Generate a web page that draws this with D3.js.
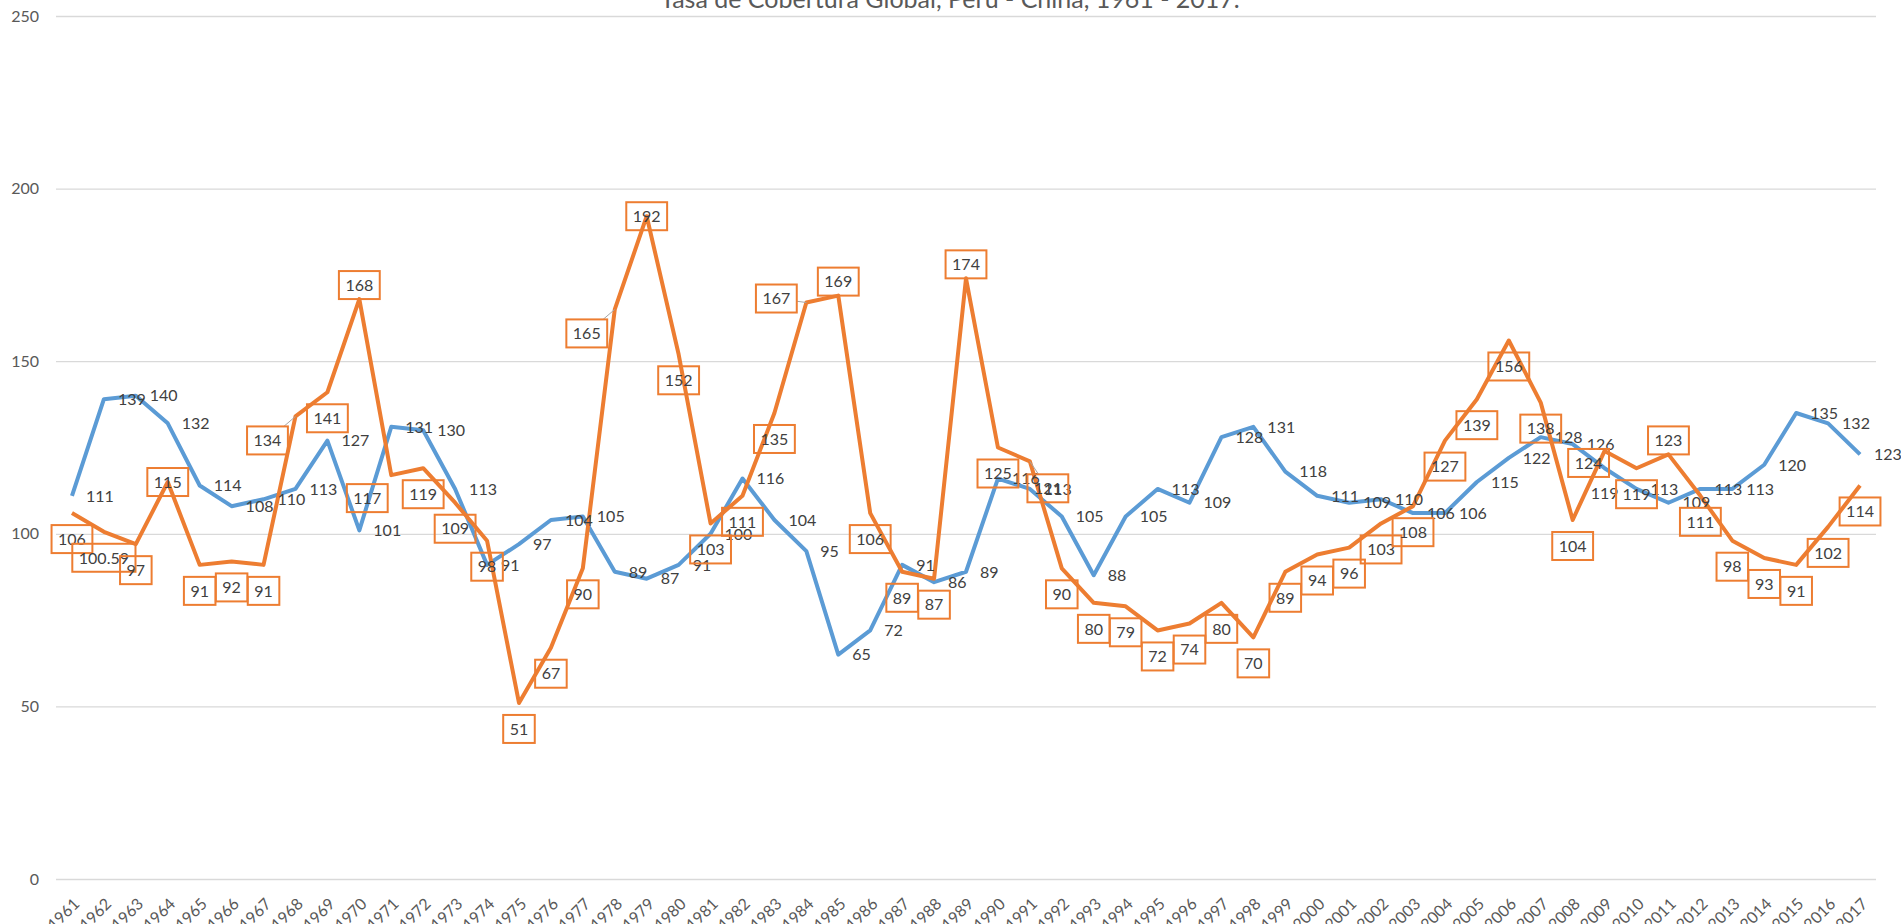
<!DOCTYPE html>
<html>
<head>
<meta charset="utf-8">
<script src="https://cdn.jsdelivr.net/npm/d3@7"></script>
<style>
  body { margin: 0; background: #fff; }
  svg { display: block; font-family: Lato, "Open Sans", sans-serif; }
</style>
</head>
<body>
<svg id="svg" width="1901" height="924"></svg>
<script>
// categories and values
var years = d3.range(1961, 2018).map(String);

var peru = [111, 139, 140, 132, 114, 108, 110, 113, 127, 101,
            131, 130, 113, 91, 97, 104, 105, 89, 87, 91,
            100, 116, 104, 95, 65, 72, 91, 86, 89, 116,
            113, 105, 88, 105, 113, 109, 128, 131, 118, 111,
            109, 110, 106, 106, 115, 122, 128, 126, 119, 113,
            109, 113, 113, 120, 135, 132, 123];

var china = [106, 100.59, 97, 115, 91, 92, 91, 134, 141, 168,
             117, 119, 109, 98, 51, 67, 90, 165, 192, 152,
             103, 111, 135, 167, 169, 106, 89, 87, 174, 125,
             121, 90, 80, 79, 72, 74, 80, 70, 89, 94,
             96, 103, 108, 127, 139, 156, 138, 104, 124, 119,
             123, 111, 98, 93, 91, 102, 114];

var yTicks = [0, 50, 100, 150, 200, 250];

// where each boxed label sits relative to its point
var chinaLabelPos = ['b','b','b','c','b','b','b','bl','b','a',
                     'bx','b','b','b','b','b','b','bl','c','b',
                     'b','b','b','l','a','b','b','b','a','b',
                     'br','b','b','b','b','b','b','b','b','b',
                     'b','b','b','b','b','b','b','b','bs','b',
                     'a','b','b','b','b','b','b'];
var peruLabelBelow = ['2009'];

var title = 'Tasa de Cobertura Global, Peru - China, 1961 - 2017.';

var svg = d3.select('#svg');
var plotL = 56, plotR = 1876, plotT = 16, plotB = 879;

var x = d3.scalePoint().domain(years).range([plotL, plotR]).padding(0.5);
var y = d3.scaleLinear().domain([0, 250]).range([plotB, plotT]);

// title
svg.append('text')
   .attr('x', 950)
   .attr('y', 8)
   .attr('text-anchor', 'middle')
   .style('font-size', '25px')
   .style('fill', '#595959')
   .text(title);

// gridlines + value axis
var gy = svg.append('g')
   .attr('transform', 'translate(' + plotL + ',0)')
   .call(d3.axisLeft(y).tickValues(yTicks).tickSize(-(plotR - plotL)).tickPadding(17));
gy.select('.domain').remove();
gy.selectAll('.tick line').attr('stroke', '#D9D9D9').attr('stroke-width', 1.3);
gy.selectAll('.tick text')
   .style('font-family', 'Lato, sans-serif')
   .style('font-size', '16px')
   .attr('fill', '#595959');

// category axis, labels at -45
var gx = svg.append('g')
   .attr('transform', 'translate(0,' + plotB + ')')
   .call(d3.axisBottom(x).tickSize(0).tickPadding(0));
gx.select('.domain').remove();
gx.selectAll('.tick text')
   .attr('y', 0)
   .attr('dy', 0)
   .attr('text-anchor', 'end')
   .attr('transform', 'translate(8,26) rotate(-45)')
   .style('font-family', 'Lato, sans-serif')
   .style('font-size', '16px')
   .attr('fill', '#595959');

// lines
var line = d3.line()
   .x(function(d, i) { return x(years[i]); })
   .y(function(d) { return y(d); });

svg.append('path')
   .datum(peru)
   .attr('d', line)
   .attr('fill', 'none')
   .attr('stroke', '#5B9BD5')
   .attr('stroke-width', 4)
   .attr('stroke-linejoin', 'round');

svg.append('path')
   .datum(china)
   .attr('d', line)
   .attr('fill', 'none')
   .attr('stroke', '#ED7D31')
   .attr('stroke-width', 4)
   .attr('stroke-linejoin', 'round');

// blue labels, to the right of the point
svg.append('g').selectAll('text')
   .data(peru)
   .join('text')
   .attr('x', function(d, i) {
       return peruLabelBelow.indexOf(years[i]) >= 0 ? x(years[i]) : x(years[i]) + 14;
   })
   .attr('y', function(d, i) {
       return peruLabelBelow.indexOf(years[i]) >= 0 ? y(d) + 25 : y(d);
   })
   .attr('dy', '0.36em')
   .attr('text-anchor', function(d, i) {
       return peruLabelBelow.indexOf(years[i]) >= 0 ? 'middle' : 'start';
   })
   .style('font-size', '16px')
   .style('fill', '#404040')
   .text(function(d) { return d; });

// orange boxed labels
var offsets = { b: [0, 26], a: [0, -14], c: [0, 0], l: [-30, -4],
                bl: [-28, 24], bx: [-24, 23], bs: [-16, 12], br: [18, 27] };
var withLeader = ['bl', 'l', 'br'];
var lg = svg.append('g');
china.forEach(function(v, i) {
    var px = x(years[i]), py = y(v);
    var code = chinaLabelPos[i];
    var o = offsets[code];
    var cx = px + o[0], cy = py + o[1];
    var g = lg.append('g');
    var t = g.append('text')
       .attr('x', cx)
       .attr('y', cy)
       .attr('dy', '0.36em')
       .attr('text-anchor', 'middle')
       .style('font-size', '16px')
       .style('fill', '#404040')
       .text(v);
    var w = t.node().getComputedTextLength() + 13, h = 28;
    var dx = px - cx, dy = py - cy;
    if (withLeader.indexOf(code) >= 0) {
        // leader line from the box edge to the point
        var k = Math.min((w / 2) / Math.abs(dx || 1e-6), (h / 2) / Math.abs(dy || 1e-6));
        g.insert('line', 'text')
         .attr('x1', cx + dx * k).attr('y1', cy + dy * k)
         .attr('x2', px).attr('y2', py)
         .attr('stroke', '#A6A6A6')
         .attr('stroke-width', 1);
    }
    g.insert('rect', 'text')
     .attr('x', cx - w / 2)
     .attr('y', cy - h / 2)
     .attr('width', w)
     .attr('height', h)
     .attr('fill', 'none')
     .attr('stroke', '#ED7D31')
     .attr('stroke-width', 2);
});
</script>
</body>
</html>
